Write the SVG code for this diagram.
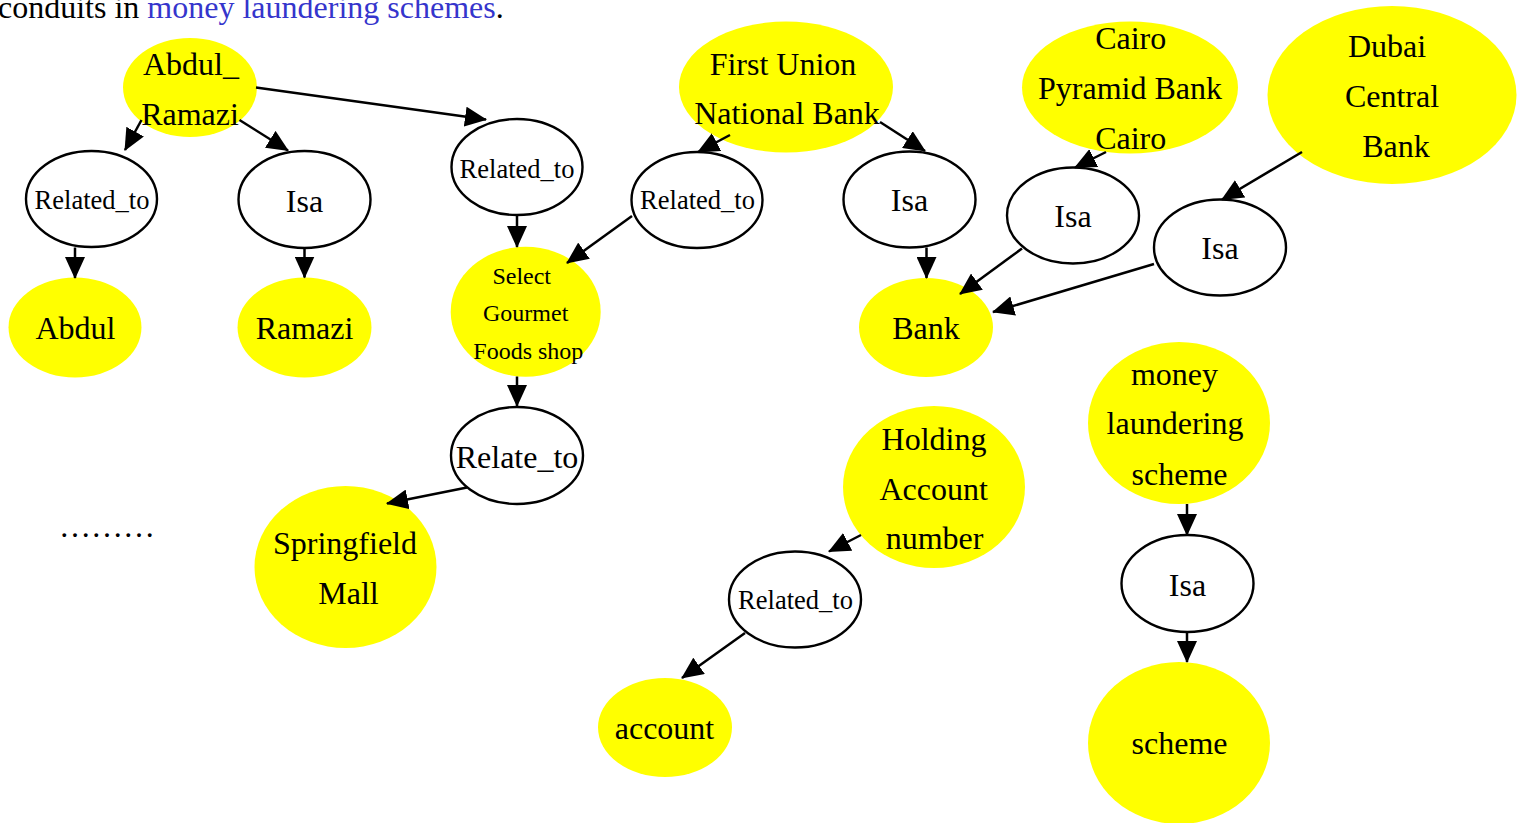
<svg xmlns="http://www.w3.org/2000/svg" width="1518" height="823" viewBox="0 0 1518 823">
<style>
  .y { fill: #ffff00; stroke: none; }
  .w { fill: #ffffff; stroke: #000; stroke-width: 2.4; }
  text { font-family: "Liberation Serif", "Times New Roman", serif; fill: #000; text-anchor: middle; }
  .l { font-size: 32px; }
  .r { font-size: 26.5px; }
  .s { font-size: 24px; }
  .e { stroke: #000; stroke-width: 2.5; fill: none; marker-end: url(#arr); }
</style>
<defs>
  <marker id="arr" markerUnits="userSpaceOnUse" markerWidth="22" markerHeight="20" viewBox="0 0 22 20" refX="21" refY="10" orient="auto">
    <path d="M0,0 L22,10 L0,20 Z" fill="#000"/>
  </marker>
</defs>
<rect width="1518" height="823" fill="#fff"/>
<text x="-2" y="18" style="font-size:32px;text-anchor:start">conduits in <tspan fill="#3535cc">money laundering schemes</tspan>.</text>

<g id="n1"><ellipse class="y" cx="190" cy="87.5" rx="67" ry="49.5"/><text class="l" x="191" y="75">Abdul_</text><text class="l" x="190" y="125">Ramazi</text></g>
<g id="n2"><ellipse class="w" cx="91.5" cy="199" rx="65.5" ry="48"/><text class="r" x="92" y="209">Related_to</text></g>
<g id="n3"><ellipse class="w" cx="304.5" cy="199.5" rx="66" ry="48.5"/><text class="l" x="304.5" y="212">Isa</text></g>
<g id="n4"><ellipse class="y" cx="75" cy="327.5" rx="66.5" ry="50"/><text class="l" x="75.5" y="339">Abdul</text></g>
<g id="n5"><ellipse class="y" cx="304.5" cy="327.5" rx="67" ry="50"/><text class="l" x="304.5" y="339">Ramazi</text></g>
<g id="n6"><ellipse class="w" cx="517" cy="167" rx="65.5" ry="48"/><text class="r" x="517" y="178">Related_to</text></g>
<g id="n7"><ellipse class="y" cx="525.7" cy="311.7" rx="75" ry="65"/><text class="s" x="521.7" y="284">Select</text><text class="s" x="525.7" y="321">Gourmet</text><text class="s" x="528.3" y="359">Foods shop</text></g>
<g id="n8"><ellipse class="w" cx="517" cy="455.5" rx="66" ry="48.5"/><text class="l" x="517" y="468">Relate_to</text></g>
<g id="n9"><ellipse class="y" cx="345.5" cy="567" rx="91" ry="81"/><text class="l" x="345" y="554">Springfield</text><text class="l" x="348.5" y="604">Mall</text></g>
<g id="n10"><ellipse class="y" cx="786" cy="87" rx="107" ry="65.5"/><text class="l" x="783" y="75">First Union</text><text class="l" x="787" y="124">National Bank</text></g>
<g id="n11"><ellipse class="w" cx="697" cy="200" rx="65.5" ry="48"/><text class="r" x="697.5" y="209">Related_to</text></g>
<g id="n12"><ellipse class="w" cx="909.5" cy="199.5" rx="66" ry="48"/><text class="l" x="909.5" y="211">Isa</text></g>
<g id="n13"><ellipse class="y" cx="926" cy="327.5" rx="67" ry="49.5"/><text class="l" x="926" y="339">Bank</text></g>
<g id="n14"><ellipse class="y" cx="1130" cy="87.5" rx="108" ry="66"/><text class="l" x="1130.7" y="49">Cairo</text><text class="l" x="1130" y="99">Pyramid Bank</text><text class="l" x="1130.7" y="148.5">Cairo</text></g>
<g id="n15"><ellipse class="w" cx="1073" cy="215.5" rx="66" ry="48"/><text class="l" x="1073" y="227">Isa</text></g>
<g id="n16"><ellipse class="y" cx="1392" cy="95" rx="124.5" ry="89"/><text class="l" x="1387" y="57">Dubai</text><text class="l" x="1392" y="107">Central</text><text class="l" x="1396" y="157">Bank</text></g>
<g id="n17"><ellipse class="w" cx="1220" cy="247.5" rx="66" ry="48"/><text class="l" x="1220" y="259">Isa</text></g>
<g id="n18"><ellipse class="y" cx="934" cy="487" rx="91" ry="81"/><text class="l" x="934" y="450">Holding</text><text class="l" x="933.7" y="500">Account</text><text class="l" x="934.5" y="549">number</text></g>
<g id="n19"><ellipse class="w" cx="795" cy="599.5" rx="66" ry="48"/><text class="r" x="795.5" y="609">Related_to</text></g>
<g id="n20"><ellipse class="y" cx="665" cy="727.5" rx="67" ry="49.5"/><text class="l" x="664.5" y="739">account</text></g>
<g id="n21"><ellipse class="y" cx="1179" cy="423" rx="91" ry="81"/><text class="l" x="1174.5" y="385">money</text><text class="l" x="1175" y="434">laundering</text><text class="l" x="1179.5" y="485">scheme</text></g>
<g id="n22"><ellipse class="w" cx="1187.5" cy="583.5" rx="66" ry="48.5"/><text class="l" x="1187.5" y="596">Isa</text></g>
<g id="n23"><ellipse class="y" cx="1179" cy="743" rx="91" ry="81"/><text class="l" x="1179.5" y="754">scheme</text></g>
<g id="dots"><text x="59" y="537" style="font-size:32px;text-anchor:start">………</text></g>

<g id="connectors">
  <line class="e" x1="141.5" y1="120" x2="125" y2="150"/>
  <line class="e" x1="239.5" y1="120" x2="288" y2="150.5"/>
  <line class="e" x1="256" y1="87.5" x2="486" y2="119.5"/>
  <line class="e" x1="75" y1="247.5" x2="75" y2="278"/>
  <line class="e" x1="304.5" y1="248" x2="304.5" y2="277.5"/>
  <line class="e" x1="517" y1="215" x2="517" y2="247"/>
  <line class="e" x1="632" y1="216" x2="567" y2="263"/>
  <line class="e" x1="517" y1="376.5" x2="517" y2="406"/>
  <line class="e" x1="467" y1="487.5" x2="387" y2="503.5"/>
  <line class="e" x1="730" y1="135" x2="698" y2="152"/>
  <line class="e" x1="880" y1="122" x2="925" y2="151"/>
  <line class="e" x1="926.5" y1="247.5" x2="926.5" y2="278"/>
  <line class="e" x1="1106" y1="152" x2="1075" y2="167.5"/>
  <line class="e" x1="1022" y1="248.5" x2="960" y2="294"/>
  <line class="e" x1="1302" y1="152" x2="1222" y2="199.5"/>
  <line class="e" x1="1154" y1="264" x2="993" y2="312"/>
  <line class="e" x1="861" y1="535" x2="829" y2="551.5"/>
  <line class="e" x1="745" y1="633" x2="682" y2="678"/>
  <line class="e" x1="1187" y1="504" x2="1187" y2="535"/>
  <line class="e" x1="1187" y1="632" x2="1187" y2="662"/>
</g>
</svg>
